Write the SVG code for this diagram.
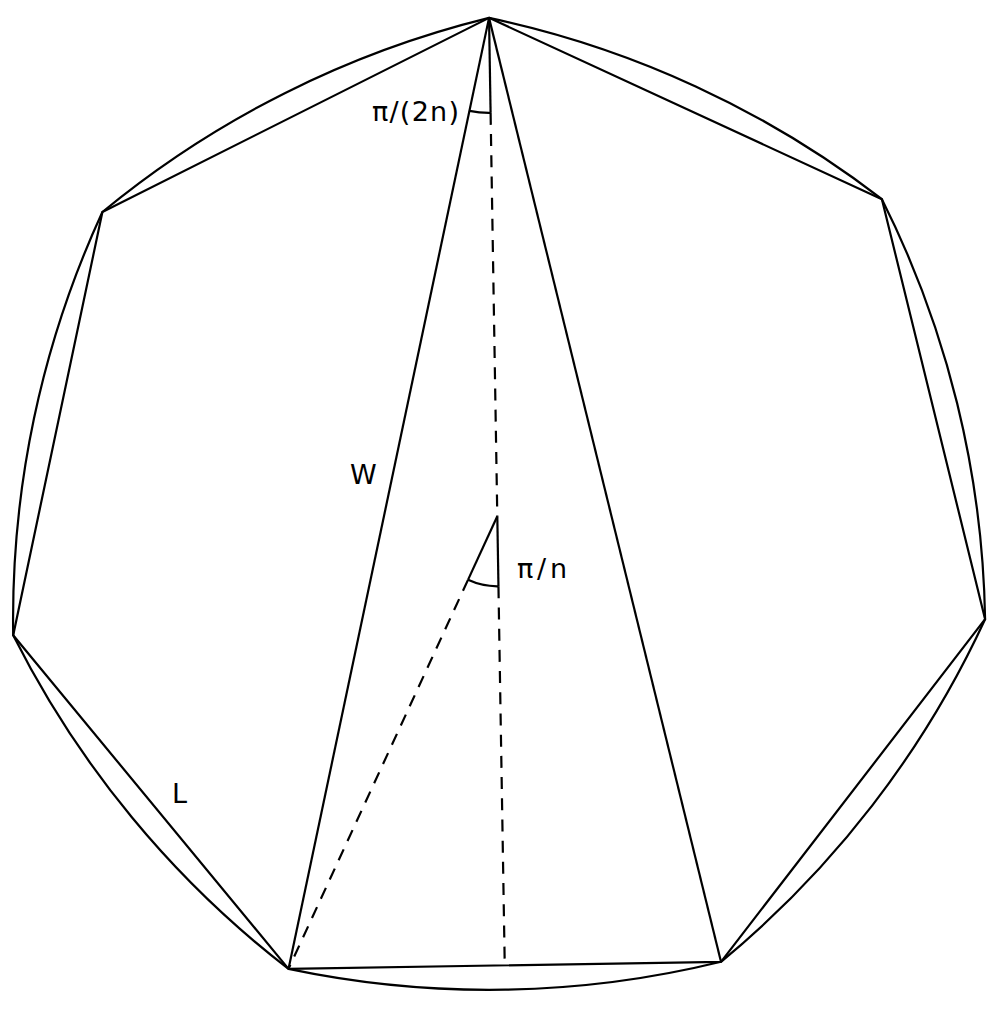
<svg xmlns="http://www.w3.org/2000/svg" width="1001" height="1010" viewBox="0 0 1001 1010">
<style>
.s{fill:none;stroke:#000;stroke-width:2.2;stroke-linejoin:round;stroke-linecap:butt}
.d{fill:none;stroke:#000;stroke-width:2.2;stroke-dasharray:12 9.2}
.t{font-family:"DejaVu Sans","Liberation Sans",sans-serif;fill:#000;font-size:27px}
</style>
<rect width="1001" height="1010" fill="#fff"/>
<g id="reuleaux">
<path class="s" d="M489.03 17.87 A972 972 0 0 1 881.9 199.2 A972 972 0 0 1 985.1 619.2 A972 972 0 0 1 721.0 961.8 A972 972 0 0 1 288.5 968.9 A972 972 0 0 1 13.2 635.2 A972 972 0 0 1 102.4 212.0 A972 972 0 0 1 489.03 17.87 Z"/>
</g>
<g id="heptagon">
<polygon class="s" points="489.03,17.87 881.9,199.2 985.1,619.2 721.0,961.8 288.5,968.9 13.2,635.2 102.4,212.0"/>
</g>
<g id="connectors">
<line class="s" x1="489.03" y1="17.87" x2="288.5" y2="968.9"/>
<line class="s" x1="489.03" y1="17.87" x2="721.0" y2="961.8"/>
<line class="s" x1="489.03" y1="17.87" x2="490.6" y2="112.86"/>
<line class="d" x1="490.6" y1="112.86" x2="497.3" y2="516.3"/>
<line class="s" x1="497.3" y1="516.3" x2="498.46" y2="586.29"/>
<line class="d" x1="498.46" y1="586.29" x2="504.75" y2="965.35"/>
<line class="s" x1="497.3" y1="516.3" x2="468.0" y2="579.87"/>
<line class="d" x1="468.0" y1="579.87" x2="288.5" y2="968.9"/>
<path class="s" d="M490.6 112.86 A95 95 0 0 1 469.43 110.83"/>
<path class="s" d="M498.46 586.29 A70 70 0 0 1 468.0 579.87"/>
</g>
<g id="labels">
<text class="t" x="372" y="121" textLength="87" lengthAdjust="spacing">π/(2n)</text>
<text class="t" x="517" y="578" textLength="50" lengthAdjust="spacing">π/n</text>
<text class="t" x="350" y="484">W</text>
<text class="t" x="172" y="803">L</text>
</g>
</svg>
